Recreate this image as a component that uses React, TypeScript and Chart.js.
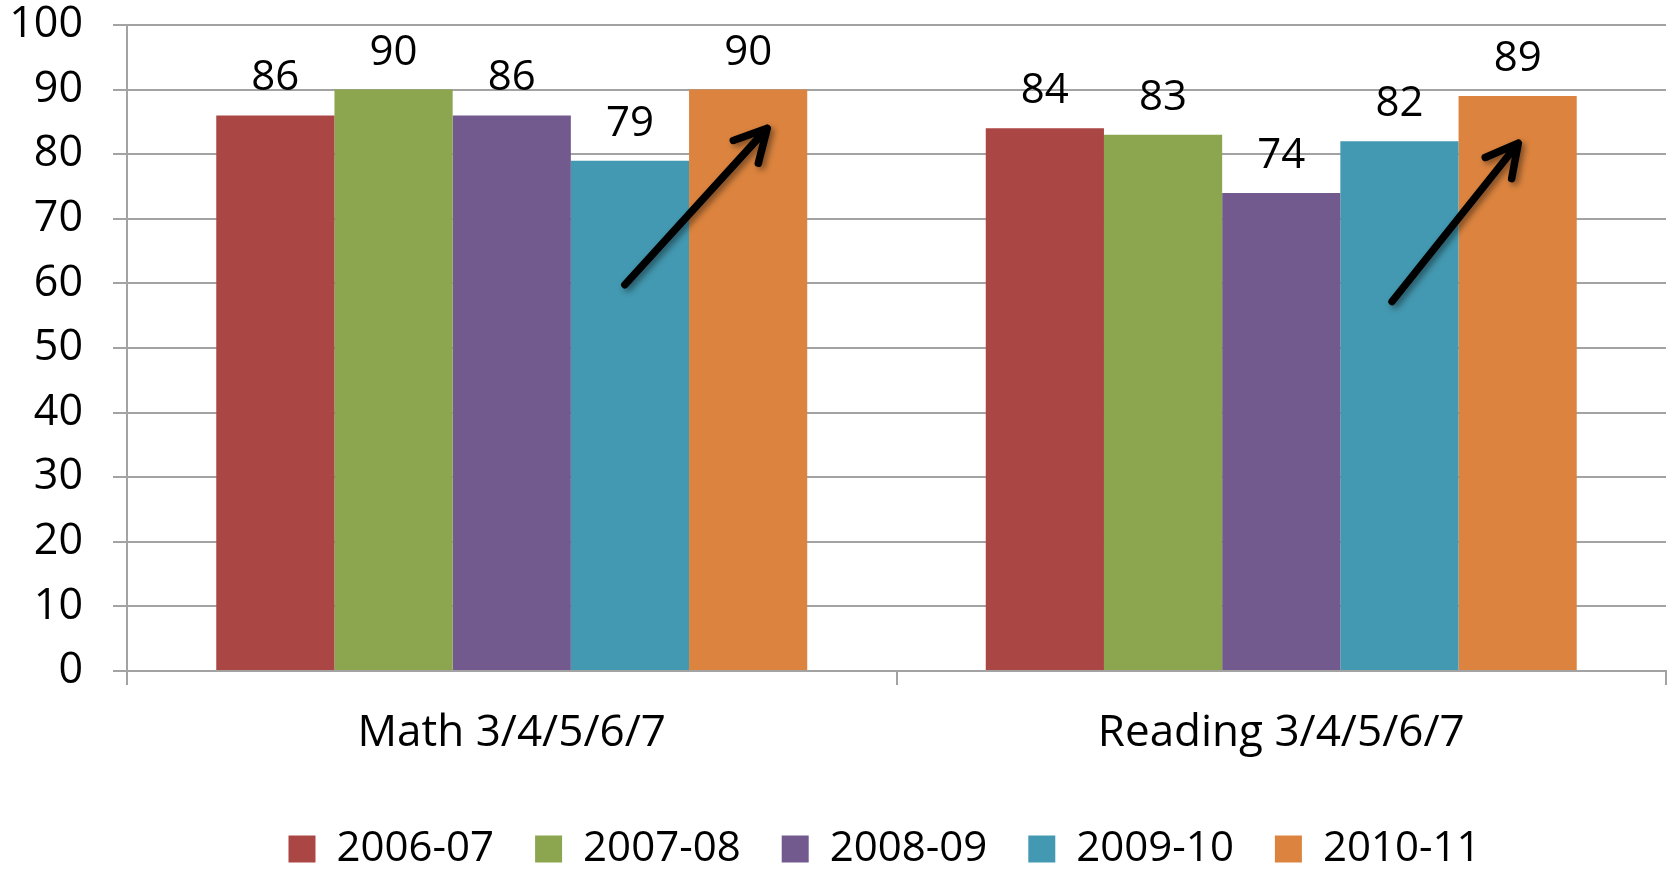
import React, { useEffect, useRef } from "react";
import { Chart, registerables } from "chart.js";

Chart.register(...registerables);

const categories = ["Math 3/4/5/6/7", "Reading 3/4/5/6/7"];
const seriesLabels = ["2006-07", "2007-08", "2008-09", "2009-10", "2010-11"];
const values200607 = [86, 84];
const values200708 = [90, 83];
const values200809 = [86, 74];
const values200910 = [79, 82];
const values201011 = [90, 89];
const seriesColors = ["#AA4644", "#8BA64F", "#725A8F", "#4399B1", "#DC843F"];

const yMin = 0;
const yMax = 100;
const yStep = 10;

// Trend arrows, in data space: [category index, offset within category (fraction of category width), value]
const arrowTails = [
  [0, 0.147, 59.8],
  [1, 0.144, 57.2],
];
const arrowTips = [
  [0, 0.332, 84.0],
  [1, 0.308, 81.7],
];

const FONT = "'Open Sans'";
const GRID = "#a3a3a3";

const valueLabelsPlugin = {
  id: "valueLabels",
  afterDatasetsDraw(chart: any) {
    const ctx = chart.ctx;
    ctx.save();
    ctx.font = `42px ${FONT}`;
    ctx.fillStyle = "#000";
    ctx.textAlign = "center";
    ctx.textBaseline = "alphabetic";
    chart.data.datasets.forEach((ds: any, i: number) => {
      const meta = chart.getDatasetMeta(i);
      meta.data.forEach((bar: any, j: number) => {
        ctx.fillText(String(ds.data[j]), bar.x, bar.y - 25);
      });
    });
    ctx.restore();
  },
};

const arrowsPlugin = {
  id: "trendArrows",
  afterDatasetsDraw(chart: any) {
    const xs = chart.scales.x;
    const ys = chart.scales.y;
    const catW = (xs.right - xs.left) / categories.length;
    const toPx = (p: number[]) => [
      xs.getPixelForValue(p[0]) + p[1] * catW,
      ys.getPixelForValue(p[2]),
    ];
    const ctx = chart.ctx;
    ctx.save();
    ctx.strokeStyle = "#000";
    ctx.lineWidth = 7.5;
    ctx.lineCap = "round";
    ctx.lineJoin = "round";
    ctx.shadowColor = "rgba(0,0,0,0.45)";
    ctx.shadowBlur = 6;
    ctx.shadowOffsetX = 3;
    ctx.shadowOffsetY = 3;
    arrowTails.forEach((t, i) => {
      const [x1, y1] = toPx(t);
      const [x2, y2] = toPx(arrowTips[i]);
      const ang = Math.atan2(y1 - y2, x1 - x2);
      const len = 36;
      const spread = (28 * Math.PI) / 180;
      ctx.beginPath();
      ctx.moveTo(x1, y1);
      ctx.lineTo(x2, y2);
      ctx.moveTo(x2 + len * Math.cos(ang + spread), y2 + len * Math.sin(ang + spread));
      ctx.lineTo(x2, y2);
      ctx.lineTo(x2 + len * Math.cos(ang - spread), y2 + len * Math.sin(ang - spread));
      ctx.stroke();
    });
    ctx.restore();
  },
};

// Nudge the legend slightly left, as in the reference layout
const legendShiftPlugin = {
  id: "legendShift",
  afterLayout(chart: any) {
    if (chart.legend) chart.legend.left -= 24;
  },
};

export default function App() {
  const canvasRef = useRef<HTMLCanvasElement | null>(null);

  useEffect(() => {
    let chart: Chart | null = null;
    let cancelled = false;
    const build = () => {
      if (cancelled || !canvasRef.current) return;
      Chart.defaults.font.family = FONT;
      const seriesValues = [values200607, values200708, values200809, values200910, values201011];
      chart = new Chart(canvasRef.current, {
        type: "bar",
        data: {
          labels: categories,
          datasets: seriesLabels.map((label, i) => ({
            label,
            data: seriesValues[i],
            backgroundColor: seriesColors[i],
            borderWidth: 0,
            barPercentage: 1,
            categoryPercentage: 0.768,
          })),
        },
        options: {
          responsive: false,
          animation: false,
          events: [],
          layout: { padding: { top: 25, right: 5, bottom: -11, left: 0 } },
          plugins: {
            tooltip: { enabled: false },
            title: { display: false },
            legend: {
              display: true,
              position: "bottom",
              fullSize: false,
              labels: {
                color: "#000",
                font: { family: FONT, size: 42 },
                boxWidth: 27,
                boxHeight: 27,
                padding: 41,
              },
            },
          },
          scales: {
            x: {
              grid: {
                display: true,
                drawOnChartArea: false,
                drawTicks: true,
                tickLength: 14,
                color: GRID,
                lineWidth: 2,
                offset: true,
              },
              border: { display: true, color: GRID, width: 2 },
              ticks: {
                color: "#000",
                font: { family: FONT, size: 44 },
                padding: 22,
                maxRotation: 0,
              },
              afterFit(scale: any) {
                scale.height = 116;
              },
            },
            y: {
              min: yMin,
              max: yMax,
              grid: {
                color: GRID,
                lineWidth: 2,
                drawTicks: true,
                tickLength: 14,
              },
              border: { display: true, color: GRID, width: 2 },
              ticks: {
                stepSize: yStep,
                color: "#000",
                font: { family: FONT, size: 43 },
                padding: 30,
              },
              afterFit(scale: any) {
                scale.width = 127;
                scale.paddingTop = 0;
                scale.paddingBottom = 0;
              },
            },
          },
        },
        plugins: [valueLabelsPlugin, arrowsPlugin, legendShiftPlugin],
      } as any);
    };
    const fontsApi = (document as any).fonts;
    if (fontsApi && fontsApi.load) {
      fontsApi.load(`41px ${FONT}`).then(build, build);
    } else {
      build();
    }
    return () => {
      cancelled = true;
      if (chart) chart.destroy();
    };
  }, []);

  return (
    <div style={{ position: "fixed", left: 0, top: 0, width: 1671, height: 869, background: "#fff" }}>
      <canvas ref={canvasRef} width={1671} height={869} style={{ display: "block" }} />
    </div>
  );
}
